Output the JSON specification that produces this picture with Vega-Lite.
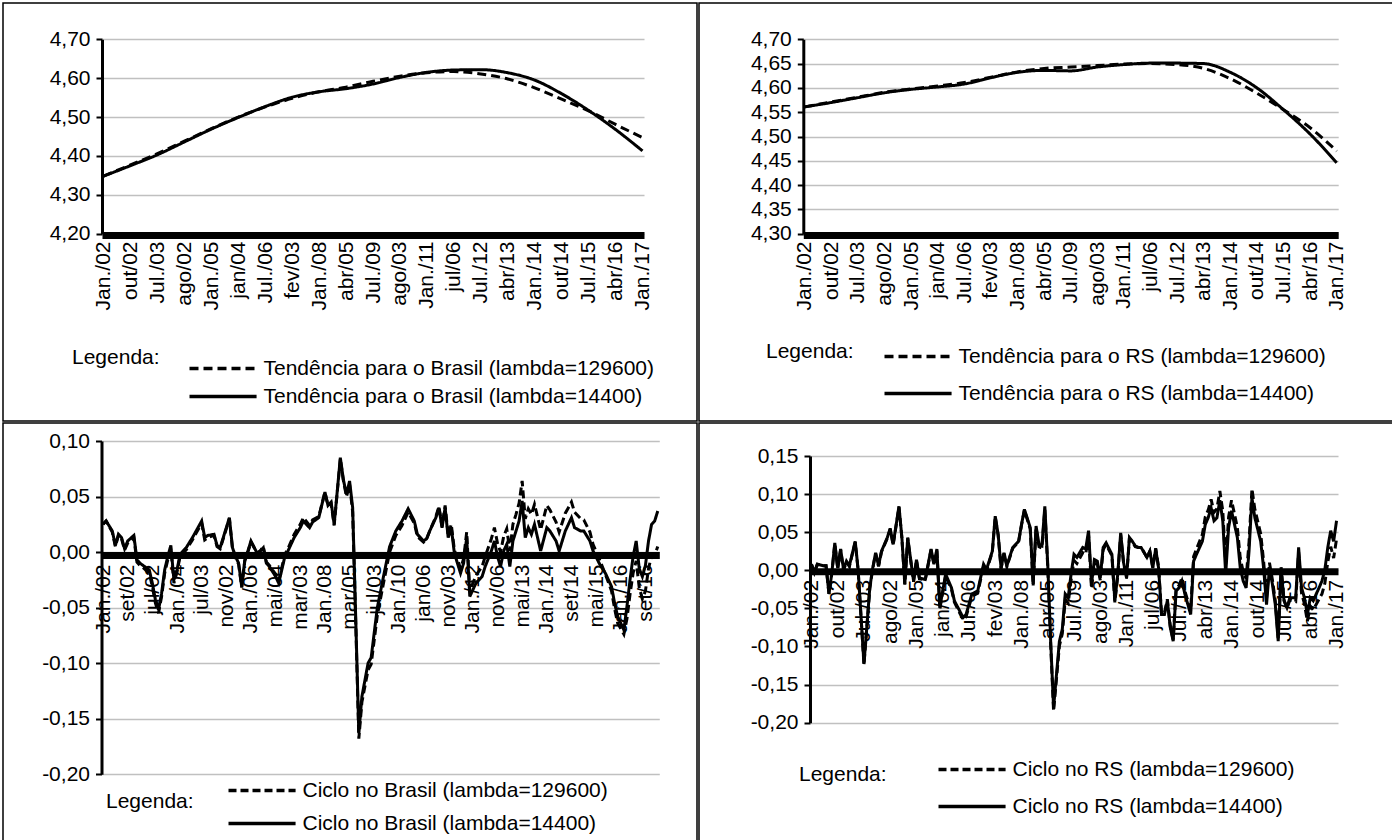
{
"$schema": "https://vega.github.io/schema/vega-lite/v6.json",
"background": "white",
"padding": {"left": 2, "top": 2, "right": 2, "bottom": 2},
"spacing": 0,
"resolve": {"scale": {"x": "independent", "y": "independent", "strokeDash": "independent"}, "legend": {"strokeDash": "independent"}},
"config": {
  "font": "Liberation Sans",
  "view": {"stroke": "black", "strokeWidth": 1.5},
  "axis": {"labelFont": "Liberation Sans", "labelFontSize": 21, "labelColor": "black", "domainColor": "black", "tickColor": "black", "labelOverlap": false, "labelFlush": false},
  "legend": {"labelFont": "Liberation Sans", "titleFont": "Liberation Sans", "labelFontSize": 21, "titleFontSize": 21, "titleFontWeight": "normal", "titleColor": "black", "labelColor": "black", "labelLimit": 600, "titleLimit": 300, "symbolType": "M0,0H12", "symbolSize": 125, "symbolStrokeWidth": 3.5, "symbolStrokeColor": "black", "labelOffset": 63.5, "direction": "vertical", "orient": "none", "titleOrient": "left", "titleAnchor": "start"}
},
"vconcat": [
 {"hconcat": [
  {
   "width": 694, "height": 418,
   "data": {"values": [
    {"m":0,"a":4.348,"b":4.348},{"m":9,"a":4.377,"b":4.375},{"m":18,"a":4.406,"b":4.403},{"m":27,"a":4.438,"b":4.436},
    {"m":36,"a":4.470,"b":4.469},{"m":45,"a":4.500,"b":4.499},{"m":54,"a":4.526,"b":4.527},{"m":63,"a":4.548,"b":4.551},
    {"m":72,"a":4.565,"b":4.565},{"m":81,"a":4.577,"b":4.573},{"m":90,"a":4.592,"b":4.585},{"m":99,"a":4.605,"b":4.602},
    {"m":108,"a":4.614,"b":4.615},{"m":117,"a":4.617,"b":4.621},{"m":126,"a":4.611,"b":4.622},{"m":135,"a":4.598,"b":4.614},
    {"m":144,"a":4.575,"b":4.595},{"m":153,"a":4.546,"b":4.560},{"m":162,"a":4.516,"b":4.517},{"m":171,"a":4.481,"b":4.468},
    {"m":180,"a":4.447,"b":4.413}
   ]},
   "transform": [{"fold": ["a", "b"], "as": ["serie", "v"]}],
   "mark": {"type": "line", "interpolate": "monotone", "strokeWidth": 3, "color": "black"},
   "encoding": {
    "x": {"field": "m", "type": "quantitative", "scale": {"domain": [-0.5, 180.5], "range": [99, 641], "nice": false, "zero": false},
      "axis": {"title": null, "values": [0,9,18,27,36,45,54,63,72,81,90,99,108,117,126,135,144,153,162,171,180],
        "labelExpr": "['Jan./02','out/02','Jul./03','ago/02','Jan./05','jan/04','Jul./06','fev/03','Jan./08','abr/05','Jul./09','ago/03','Jan./11','jul/06','Jul./12','abr/13','Jan./14','out/14','Jul./15','abr/16','Jan./17'][round(datum.value/9)]",
        "labelAngle": -90, "offset": -186, "domainWidth": 7, "ticks": false, "tickSize": 0, "labelPadding": 6, "grid": false, "zindex": 0}},
    "y": {"field": "v", "type": "quantitative", "scale": {"domain": [4.2, 4.7], "range": [230.7, 36.3], "nice": false, "zero": false},
      "axis": {"title": null, "values": [4.2,4.3,4.4,4.5,4.6,4.7], "labelExpr": "replace(format(datum.value,'.2f'),'.',',')",
        "offset": -99, "domainWidth": 3, "tickSize": 6, "tickWidth": 2, "labelPadding": 6, "grid": true, "gridColor": "#c0c0c0", "gridWidth": 1.5}},
    "strokeDash": {"field": "serie", "type": "nominal", "scale": {"domain": ["a", "b"], "range": [[9, 5], [1, 0]]},
      "legend": {"title": "Legenda:", "legendX": 69, "legendY": 355, "titlePadding": 19, "rowPadding": 6, "titleBaseline": "middle",
        "labelExpr": "datum.label == 'a' ? 'Tendência para o Brasil (lambda=129600)' : 'Tendência para o Brasil (lambda=14400)'"}}
   }
  },
  {
   "width": 694, "height": 418,
   "data": {"values": [
    {"m":0,"a":4.561,"b":4.561},{"m":9,"a":4.571,"b":4.570},{"m":18,"a":4.581,"b":4.580},{"m":27,"a":4.591,"b":4.590},
    {"m":36,"a":4.598,"b":4.597},{"m":45,"a":4.604,"b":4.602},{"m":54,"a":4.611,"b":4.608},{"m":63,"a":4.622,"b":4.621},
    {"m":72,"a":4.633,"b":4.632},{"m":81,"a":4.640,"b":4.636},{"m":90,"a":4.643,"b":4.635},{"m":99,"a":4.646,"b":4.643},
    {"m":108,"a":4.649,"b":4.648},{"m":117,"a":4.650,"b":4.651},{"m":126,"a":4.648,"b":4.651},{"m":135,"a":4.640,"b":4.650},
    {"m":144,"a":4.619,"b":4.632},{"m":153,"a":4.589,"b":4.600},{"m":162,"a":4.555,"b":4.555},{"m":171,"a":4.518,"b":4.505},
    {"m":180,"a":4.470,"b":4.446}
   ]},
   "transform": [{"fold": ["a", "b"], "as": ["serie", "v"]}],
   "mark": {"type": "line", "interpolate": "monotone", "strokeWidth": 3, "color": "black"},
   "encoding": {
    "x": {"field": "m", "type": "quantitative", "scale": {"domain": [-0.5, 180.5], "range": [104.3, 639.2], "nice": false, "zero": false},
      "axis": {"title": null, "values": [0,9,18,27,36,45,54,63,72,81,90,99,108,117,126,135,144,153,162,171,180],
        "labelExpr": "['Jan./02','out/02','Jul./03','ago/02','Jan./05','jan/04','Jul./06','fev/03','Jan./08','abr/05','Jul./09','ago/03','Jan./11','jul/06','Jul./12','abr/13','Jan./14','out/14','Jul./15','abr/16','Jan./17'][round(datum.value/9)]",
        "labelAngle": -90, "offset": -186, "domainWidth": 7, "ticks": false, "tickSize": 0, "labelPadding": 6, "grid": false, "zindex": 0}},
    "y": {"field": "v", "type": "quantitative", "scale": {"domain": [4.3, 4.7], "range": [230.7, 36.3], "nice": false, "zero": false},
      "axis": {"title": null, "values": [4.3,4.35,4.4,4.45,4.5,4.55,4.6,4.65,4.7], "labelExpr": "replace(format(datum.value,'.2f'),'.',',')",
        "offset": -104.3, "domainWidth": 3, "tickSize": 6, "tickWidth": 2, "labelPadding": 6, "grid": true, "gridColor": "#c0c0c0", "gridWidth": 1.5}},
    "strokeDash": {"field": "serie", "type": "nominal", "scale": {"domain": ["a", "b"], "range": [[9, 5], [1, 0]]},
      "legend": {"title": "Legenda:", "legendX": 67, "legendY": 343, "titlePadding": 20, "rowPadding": 15, "titleBaseline": "line-top", "titleLineHeight": 12,
        "labelExpr": "datum.label == 'a' ? 'Tendência para o RS (lambda=129600)' : 'Tendência para o RS (lambda=14400)'"}}
   }
  }
 ], "spacing": 0, "resolve": {"scale": {"x": "independent", "y": "independent", "strokeDash": "independent"}, "legend": {"strokeDash": "independent"}}},
 {"hconcat": [
  {
   "width": 694, "height": 418,
   "data": {"values": [
    {"m":0,"a":0.025,"b":0.025},{"m":1,"a":0.028,"b":0.028},{"m":3,"a":0.018,"b":0.019},{"m":4,"a":0.005,"b":0.006},
    {"m":5,"a":0.015,"b":0.016},{"m":6,"a":0.012,"b":0.013},{"m":7,"a":0.002,"b":0.003},{"m":8,"a":0.008,"b":0.010},
    {"m":10,"a":0.013,"b":0.015},{"m":11,"a":-0.009,"b":-0.007},{"m":12,"a":-0.012,"b":-0.010},{"m":13,"a":-0.014,"b":-0.012},
    {"m":15,"a":-0.019,"b":-0.016},{"m":16,"a":-0.031,"b":-0.028},{"m":17,"a":-0.046,"b":-0.043},{"m":18,"a":-0.055,"b":-0.052},
    {"m":19,"a":-0.040,"b":-0.037},{"m":20,"a":-0.019,"b":-0.016},{"m":21,"a":-0.007,"b":-0.004},{"m":22,"a":0.003,"b":0.006},
    {"m":23,"a":-0.028,"b":-0.025},{"m":24,"a":-0.018,"b":-0.016},{"m":25,"a":-0.004,"b":-0.002},{"m":27,"a":0.002,"b":0.004},
    {"m":29,"a":0.011,"b":0.013},{"m":30,"a":0.016,"b":0.018},{"m":32,"a":0.026,"b":0.028},{"m":33,"a":0.011,"b":0.013},
    {"m":34,"a":0.013,"b":0.015},{"m":36,"a":0.015,"b":0.016},{"m":37,"a":0.005,"b":0.006},{"m":38,"a":0.003,"b":0.004},
    {"m":39,"a":0.012,"b":0.013},{"m":41,"a":0.030,"b":0.031},{"m":42,"a":0.003,"b":0.004},{"m":43,"a":-0.005,"b":-0.004},
    {"m":44,"a":-0.011,"b":-0.010},{"m":45,"a":-0.032,"b":-0.031},{"m":46,"a":-0.008,"b":-0.007},{"m":47,"a":0.000,"b":0.001},
    {"m":48,"a":0.009,"b":0.010},{"m":50,"a":-0.001,"b":-0.001},{"m":51,"a":0.001,"b":0.001},{"m":52,"a":0.005,"b":0.004},
    {"m":53,"a":-0.009,"b":-0.010},{"m":54,"a":-0.012,"b":-0.013},{"m":56,"a":-0.020,"b":-0.022},{"m":57,"a":-0.026,"b":-0.028},
    {"m":58,"a":-0.014,"b":-0.016},{"m":59,"a":-0.002,"b":-0.004},{"m":60,"a":0.003,"b":0.001},{"m":62,"a":0.016,"b":0.013},
    {"m":64,"a":0.025,"b":0.022},{"m":65,"a":0.031,"b":0.028},{"m":67,"a":0.024,"b":0.022},{"m":68,"a":0.029,"b":0.027},
    {"m":70,"a":0.032,"b":0.031},{"m":72,"a":0.054,"b":0.054},{"m":73,"a":0.042,"b":0.042},{"m":74,"a":0.044,"b":0.045},
    {"m":75,"a":0.024,"b":0.025},{"m":77,"a":0.084,"b":0.085},{"m":78,"a":0.064,"b":0.065},{"m":79,"a":0.050,"b":0.052},
    {"m":80,"a":0.061,"b":0.064},{"m":81,"a":0.036,"b":0.040},{"m":82,"a":-0.064,"b":-0.060},{"m":83,"a":-0.168,"b":-0.163},
    {"m":84,"a":-0.135,"b":-0.130},{"m":86,"a":-0.106,"b":-0.100},{"m":87,"a":-0.101,"b":-0.095},{"m":89,"a":-0.057,"b":-0.050},
    {"m":91,"a":-0.028,"b":-0.022},{"m":93,"a":0.000,"b":0.005},{"m":95,"a":0.015,"b":0.019},{"m":97,"a":0.024,"b":0.028},
    {"m":99,"a":0.036,"b":0.039},{"m":101,"a":0.026,"b":0.028},{"m":102,"a":0.014,"b":0.016},{"m":104,"a":0.009,"b":0.010},
    {"m":105,"a":0.012,"b":0.012},{"m":106,"a":0.019,"b":0.019},{"m":108,"a":0.032,"b":0.031},{"m":109,"a":0.041,"b":0.040},
    {"m":110,"a":0.023,"b":0.022},{"m":111,"a":0.042,"b":0.040},{"m":112,"a":0.015,"b":0.013},{"m":113,"a":0.025,"b":0.022},
    {"m":114,"a":0.002,"b":-0.001},{"m":116,"a":-0.015,"b":-0.019},{"m":117,"a":-0.006,"b":-0.010},{"m":118,"a":0.018,"b":0.013},
    {"m":119,"a":-0.035,"b":-0.040},{"m":121,"a":-0.021,"b":-0.028},{"m":123,"a":-0.013,"b":-0.022},{"m":124,"a":-0.004,"b":-0.013},
    {"m":126,"a":0.012,"b":0.001},{"m":127,"a":0.022,"b":0.010},{"m":128,"a":0.008,"b":-0.004},{"m":129,"a":0.000,"b":-0.013},
    {"m":130,"a":0.014,"b":0.001},{"m":131,"a":0.021,"b":0.007},{"m":132,"a":0.001,"b":-0.013},{"m":133,"a":0.025,"b":0.010},
    {"m":134,"a":0.034,"b":0.019},{"m":135,"a":0.044,"b":0.028},{"m":136,"a":0.064,"b":0.046},{"m":137,"a":0.030,"b":0.013},
    {"m":138,"a":0.039,"b":0.022},{"m":139,"a":0.034,"b":0.016},{"m":140,"a":0.043,"b":0.025},{"m":142,"a":0.020,"b":0.001},
    {"m":144,"a":0.042,"b":0.022},{"m":145,"a":0.038,"b":0.019},{"m":147,"a":0.027,"b":0.010},{"m":148,"a":0.018,"b":0.001},
    {"m":150,"a":0.035,"b":0.019},{"m":151,"a":0.040,"b":0.025},{"m":152,"a":0.045,"b":0.031},{"m":153,"a":0.036,"b":0.022},
    {"m":155,"a":0.030,"b":0.019},{"m":156,"a":0.029,"b":0.019},{"m":158,"a":0.018,"b":0.010},{"m":159,"a":0.007,"b":0.001},
    {"m":161,"a":-0.006,"b":-0.010},{"m":163,"a":-0.020,"b":-0.019},{"m":165,"a":-0.035,"b":-0.031},{"m":166,"a":-0.051,"b":-0.046},
    {"m":167,"a":-0.064,"b":-0.058},{"m":169,"a":-0.074,"b":-0.070},{"m":170,"a":-0.060,"b":-0.049},{"m":171,"a":-0.038,"b":-0.025},
    {"m":172,"a":-0.019,"b":-0.004},{"m":173,"a":-0.008,"b":0.010},{"m":174,"a":-0.032,"b":-0.015},{"m":175,"a":-0.042,"b":-0.022},
    {"m":176,"a":-0.035,"b":-0.012},{"m":177,"a":-0.015,"b":0.010},{"m":178,"a":-0.003,"b":0.025},{"m":179,"a":-0.003,"b":0.028},
    {"m":180,"a":0.005,"b":0.037}
   ]},
   "transform": [{"fold": ["a", "b"], "as": ["serie", "v"]}],
   "mark": {"type": "line", "strokeWidth": 3, "color": "black"},
   "encoding": {
    "x": {"field": "m", "type": "quantitative", "scale": {"domain": [-0.5, 180.5], "range": [98.5, 656.3], "nice": false, "zero": false},
      "axis": {"title": null, "values": [0,8,16,24,32,40,48,56,64,72,80,88,96,104,112,120,128,136,144,152,160,168,176],
        "labelExpr": "['Jan./02','set/02','jul/02','Jan./04','jul/03','nov/02','Jan./06','mai/04','mar/03','Jan./08','mar/05','jul/03','Jan./10','jan/06','nov/03','Jan./12','nov/06','mai/13','Jan./14','set/14','mai/15','Jan./16','set/16'][round(datum.value/8)]",
        "labelAngle": -90, "offset": -286, "domainWidth": 7, "ticks": false, "tickSize": 0, "labelPadding": 9, "grid": false, "zindex": 0}},
    "y": {"field": "v", "type": "quantitative", "scale": {"domain": [-0.2, 0.1], "range": [351.3, 18], "nice": false, "zero": false},
      "axis": {"title": null, "values": [-0.2,-0.15,-0.1,-0.05,0,0.05,0.1], "labelExpr": "replace(replace(format(datum.value,'.2f'),'.',','),'−','-')",
        "offset": -98.5, "domainWidth": 3, "tickSize": 6, "tickWidth": 2, "labelPadding": 6, "grid": true, "gridColor": "#c0c0c0", "gridWidth": 1.5}},
    "strokeDash": {"field": "serie", "type": "nominal", "scale": {"domain": ["a", "b"], "range": [[8, 4], [1, 0]]},
      "legend": {"title": "Legenda:", "legendX": 103, "legendY": 357, "titlePadding": 24, "rowPadding": 11, "titleBaseline": "line-top", "titleLineHeight": 43,
        "labelExpr": "datum.label == 'a' ? 'Ciclo no Brasil (lambda=129600)' : 'Ciclo no Brasil (lambda=14400)'"}}
   }
  },
  {
   "width": 694, "height": 418,
   "data": {"values": [
    {"m":0,"a":0.008,"b":0.008},{"m":1,"a":-0.003,"b":-0.003},{"m":2,"a":0.008,"b":0.008},{"m":4,"a":0.006,"b":0.006},
    {"m":5,"a":0.006,"b":0.006},{"m":6,"a":-0.031,"b":-0.031},{"m":7,"a":-0.004,"b":-0.003},{"m":8,"a":0.035,"b":0.036},
    {"m":9,"a":0.002,"b":0.003},{"m":10,"a":0.027,"b":0.028},{"m":11,"a":0.000,"b":0.001},{"m":12,"a":0.011,"b":0.012},
    {"m":13,"a":0.005,"b":0.006},{"m":15,"a":0.037,"b":0.038},{"m":16,"a":0.000,"b":0.001},{"m":18,"a":-0.124,"b":-0.123},
    {"m":20,"a":-0.024,"b":-0.023},{"m":21,"a":0.002,"b":0.003},{"m":22,"a":0.022,"b":0.023},{"m":23,"a":0.005,"b":0.006},
    {"m":24,"a":0.024,"b":0.025},{"m":26,"a":0.042,"b":0.043},{"m":27,"a":0.054,"b":0.055},{"m":28,"a":0.033,"b":0.034},
    {"m":30,"a":0.083,"b":0.084},{"m":31,"a":0.042,"b":0.043},{"m":32,"a":-0.019,"b":-0.018},{"m":33,"a":0.042,"b":0.043},
    {"m":35,"a":-0.015,"b":-0.014},{"m":36,"a":0.013,"b":0.014},{"m":37,"a":-0.011,"b":-0.010},{"m":39,"a":-0.013,"b":-0.012},
    {"m":41,"a":0.027,"b":0.028},{"m":42,"a":0.007,"b":0.008},{"m":43,"a":0.026,"b":0.028},{"m":44,"a":-0.051,"b":-0.049},
    {"m":46,"a":-0.007,"b":-0.005},{"m":48,"a":-0.025,"b":-0.023},{"m":49,"a":-0.042,"b":-0.040},{"m":52,"a":-0.065,"b":-0.062},
    {"m":53,"a":-0.061,"b":-0.058},{"m":55,"a":-0.034,"b":-0.031},{"m":57,"a":-0.030,"b":-0.027},{"m":59,"a":0.006,"b":0.008},
    {"m":60,"a":-0.001,"b":0.001},{"m":62,"a":0.024,"b":0.025},{"m":63,"a":0.070,"b":0.071},{"m":64,"a":0.046,"b":0.047},
    {"m":65,"a":0.002,"b":0.003},{"m":66,"a":0.022,"b":0.023},{"m":67,"a":0.005,"b":0.006},{"m":69,"a":0.029,"b":0.030},
    {"m":71,"a":0.037,"b":0.038},{"m":72,"a":0.059,"b":0.060},{"m":73,"a":0.079,"b":0.080},{"m":75,"a":0.054,"b":0.056},
    {"m":76,"a":-0.020,"b":-0.018},{"m":77,"a":0.056,"b":0.058},{"m":78,"a":0.031,"b":0.034},{"m":79,"a":0.029,"b":0.032},
    {"m":80,"a":0.080,"b":0.084},{"m":81,"a":0.004,"b":0.008},{"m":82,"a":-0.097,"b":-0.093},{"m":83,"a":-0.185,"b":-0.180},
    {"m":85,"a":-0.099,"b":-0.093},{"m":86,"a":-0.083,"b":-0.077},{"m":87,"a":-0.038,"b":-0.031},{"m":88,"a":-0.043,"b":-0.036},
    {"m":89,"a":-0.013,"b":-0.005},{"m":90,"a":0.013,"b":0.021},{"m":91,"a":0.009,"b":0.017},{"m":93,"a":0.023,"b":0.030},
    {"m":94,"a":0.021,"b":0.028},{"m":95,"a":0.046,"b":0.052},{"m":96,"a":-0.024,"b":-0.018},{"m":97,"a":0.009,"b":0.014},
    {"m":98,"a":0.008,"b":0.012},{"m":99,"a":-0.013,"b":-0.010},{"m":100,"a":0.027,"b":0.030},{"m":101,"a":0.034,"b":0.036},
    {"m":103,"a":0.019,"b":0.021},{"m":104,"a":-0.042,"b":-0.040},{"m":105,"a":-0.007,"b":-0.005},{"m":106,"a":0.047,"b":0.049},
    {"m":107,"a":0.009,"b":0.010},{"m":108,"a":-0.011,"b":-0.010},{"m":109,"a":0.042,"b":0.043},{"m":110,"a":0.037,"b":0.038},
    {"m":111,"a":0.031,"b":0.032},{"m":112,"a":0.030,"b":0.030},{"m":113,"a":0.030,"b":0.030},{"m":115,"a":0.017,"b":0.017},
    {"m":116,"a":0.025,"b":0.025},{"m":117,"a":0.004,"b":0.003},{"m":118,"a":0.029,"b":0.028},{"m":119,"a":0.004,"b":0.003},
    {"m":120,"a":-0.057,"b":-0.058},{"m":121,"a":-0.056,"b":-0.058},{"m":122,"a":-0.038,"b":-0.040},{"m":123,"a":-0.073,"b":-0.075},
    {"m":124,"a":-0.091,"b":-0.093},{"m":125,"a":-0.024,"b":-0.027},{"m":126,"a":-0.020,"b":-0.023},{"m":127,"a":-0.010,"b":-0.014},
    {"m":128,"a":-0.027,"b":-0.031},{"m":130,"a":-0.053,"b":-0.058},{"m":131,"a":0.018,"b":0.012},{"m":132,"a":0.028,"b":0.021},
    {"m":134,"a":0.047,"b":0.038},{"m":135,"a":0.070,"b":0.060},{"m":136,"a":0.079,"b":0.069},{"m":137,"a":0.093,"b":0.082},
    {"m":138,"a":0.076,"b":0.065},{"m":139,"a":0.081,"b":0.069},{"m":140,"a":0.104,"b":0.092},{"m":141,"a":0.078,"b":0.065},
    {"m":142,"a":0.008,"b":-0.005},{"m":143,"a":0.070,"b":0.056},{"m":144,"a":0.092,"b":0.078},{"m":146,"a":0.056,"b":0.043},
    {"m":147,"a":0.016,"b":0.003},{"m":148,"a":-0.002,"b":-0.014},{"m":149,"a":-0.011,"b":-0.023},{"m":150,"a":0.037,"b":0.025},
    {"m":151,"a":0.107,"b":0.095},{"m":152,"a":0.080,"b":0.069},{"m":154,"a":0.048,"b":0.038},{"m":155,"a":0.012,"b":0.003},
    {"m":156,"a":-0.037,"b":-0.045},{"m":157,"a":0.010,"b":0.003},{"m":158,"a":-0.012,"b":-0.018},{"m":159,"a":-0.040,"b":-0.045},
    {"m":160,"a":-0.089,"b":-0.093},{"m":161,"a":0.004,"b":0.001},{"m":162,"a":-0.039,"b":-0.040},{"m":163,"a":-0.050,"b":-0.049},
    {"m":164,"a":-0.039,"b":-0.036},{"m":166,"a":-0.041,"b":-0.036},{"m":167,"a":0.024,"b":0.030},{"m":168,"a":-0.030,"b":-0.023},
    {"m":169,"a":-0.044,"b":-0.036},{"m":170,"a":-0.067,"b":-0.058},{"m":171,"a":-0.047,"b":-0.036},{"m":172,"a":-0.052,"b":-0.040},
    {"m":174,"a":-0.038,"b":-0.023},{"m":175,"a":-0.031,"b":-0.014},{"m":176,"a":-0.017,"b":0.001},{"m":177,"a":0.011,"b":0.030},
    {"m":178,"a":0.031,"b":0.052},{"m":179,"a":0.016,"b":0.038},{"m":180,"a":0.041,"b":0.065}
   ]},
   "transform": [{"fold": ["a", "b"], "as": ["serie", "v"]}],
   "mark": {"type": "line", "strokeWidth": 3, "color": "black"},
   "encoding": {
    "x": {"field": "m", "type": "quantitative", "scale": {"domain": [-0.5, 180.5], "range": [111, 639], "nice": false, "zero": false},
      "axis": {"title": null, "values": [0,9,18,27,36,45,54,63,72,81,90,99,108,117,126,135,144,153,162,171,180],
        "labelExpr": "['Jan./02','out/02','Jul./03','ago/02','Jan./05','jan/04','Jul./06','fev/03','Jan./08','abr/05','Jul./09','ago/03','Jan./11','jul/06','Jul./12','abr/13','Jan./14','out/14','Jul./15','abr/16','Jan./17'][round(datum.value/9)]",
        "labelAngle": -90, "offset": -269.7, "domainWidth": 7, "ticks": false, "tickSize": 0, "labelPadding": 8, "grid": false, "zindex": 0}},
    "y": {"field": "v", "type": "quantitative", "scale": {"domain": [-0.2, 0.15], "range": [299.7, 33], "nice": false, "zero": false},
      "axis": {"title": null, "values": [-0.2,-0.15,-0.1,-0.05,0,0.05,0.1,0.15], "labelExpr": "replace(replace(format(datum.value,'.2f'),'.',','),'−','-')",
        "offset": -111, "domainWidth": 3, "tickSize": 6, "tickWidth": 2, "labelPadding": 6, "grid": true, "gridColor": "#c0c0c0", "gridWidth": 1.5}},
    "strokeDash": {"field": "serie", "type": "nominal", "scale": {"domain": ["a", "b"], "range": [[8, 4], [1, 0]]},
      "legend": {"title": "Legenda:", "legendX": 100, "legendY": 336, "titlePadding": 41, "rowPadding": 15, "titleBaseline": "line-top", "titleLineHeight": 31,
        "labelExpr": "datum.label == 'a' ? 'Ciclo no RS (lambda=129600)' : 'Ciclo no RS (lambda=14400)'"}}
   }
  }
 ], "spacing": 0, "resolve": {"scale": {"x": "independent", "y": "independent", "strokeDash": "independent"}, "legend": {"strokeDash": "independent"}}}
]
}
